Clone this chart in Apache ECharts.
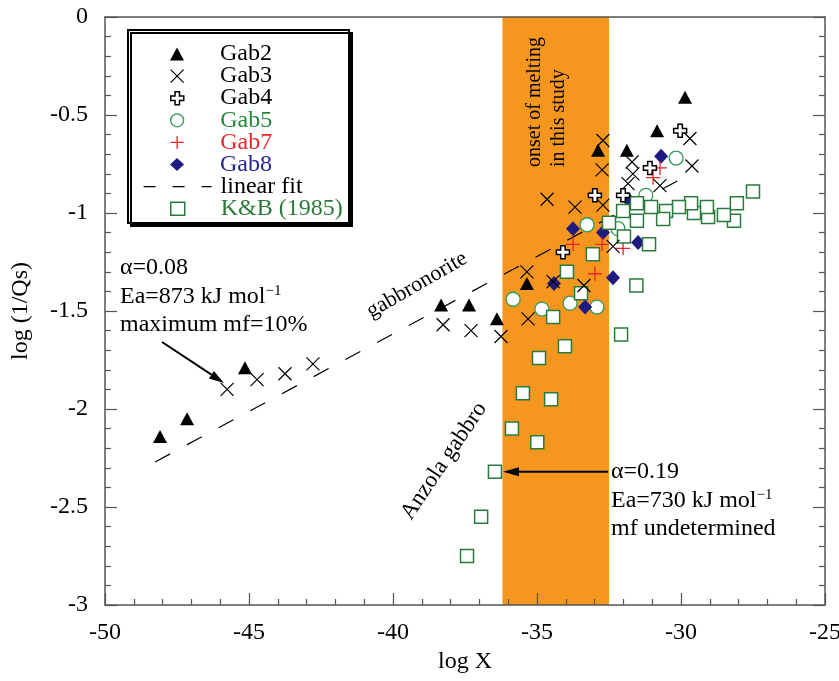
<!DOCTYPE html>
<html><head><meta charset="utf-8">
<script src="https://cdn.jsdelivr.net/npm/echarts@6/dist/echarts.min.js"></script>
<style>html,body{margin:0;padding:0;background:#fff}#c{width:839px;height:681px}</style>
</head><body><div id="c"></div>
<script>
// ---- data ----
const gab2 = [[-48.09,-2.14],[-47.15,-2.05],[-45.14,-1.79],[-38.33,-1.47],[-37.36,-1.47],[-36.39,-1.54],[-35.35,-1.36],[-32.88,-0.68],[-31.88,-0.68],[-30.83,-0.58],[-29.86,-0.41]];
const gab3 = [[-45.76,-1.90],[-44.72,-1.85],[-43.75,-1.82],[-42.78,-1.77],[-38.26,-1.57],[-37.29,-1.60],[-36.25,-1.63],[-35.31,-1.54],[-35.35,-1.30],[-34.44,-1.35],[-33.37,-1.37],[-32.36,-1.17],[-34.65,-0.93],[-33.68,-0.97],[-32.71,-0.96],[-32.71,-0.63],[-32.74,-0.78],[-31.70,-0.74],[-31.67,-0.80],[-31.84,-0.85],[-30.73,-0.86],[-29.69,-0.62],[-29.62,-0.76]];
const gab4 = [[-30.03,-0.58],[-31.08,-0.77],[-32.99,-0.91],[-32.01,-0.91],[-34.10,-1.20]];
const gab5 = [[-35.83,-1.44],[-34.83,-1.49],[-33.85,-1.46],[-32.92,-1.48],[-33.26,-1.06],[-32.19,-1.08],[-31.22,-0.91],[-30.17,-0.72]];
const gab7 = [[-30.73,-0.77],[-30.97,-0.82],[-33.75,-1.16],[-32.74,-1.16],[-32.01,-1.18],[-32.99,-1.31]];
const gab8 = [[-30.69,-0.71],[-31.84,-0.93],[-33.75,-1.08],[-32.71,-1.10],[-31.49,-1.15],[-34.41,-1.36],[-32.36,-1.33],[-33.33,-1.48]];
const kb = [[-27.50,-0.89],[-28.06,-0.95],[-28.16,-1.04],[-28.51,-1.01],[-29.06,-1.02],[-29.10,-0.97],[-29.55,-1.00],[-29.65,-0.95],[-30.07,-0.97],[-30.52,-0.99],[-30.62,-1.03],[-31.04,-0.97],[-31.53,-0.95],[-31.53,-1.04],[-32.01,-0.99],[-32.50,-1.05],[-31.98,-1.12],[-31.11,-1.16],[-33.06,-1.21],[-31.55,-1.37],[-33.96,-1.30],[-33.47,-1.41],[-34.44,-1.53],[-32.08,-1.62],[-34.03,-1.68],[-34.93,-1.74],[-35.49,-1.92],[-34.51,-1.95],[-35.87,-2.10],[-34.99,-2.17],[-36.46,-2.32],[-36.94,-2.55],[-37.43,-2.75]];
const linearFit = [[-48.26,-2.27],[-29.79,-0.81]];
const meltBand = [-36.2, -32.5];
const xRange = [-50, -25, 5];
const yRange = [-3, 0, 0.5];
const arrowLow = [[-48.02,-1.658],[-45.87,-1.867]];
const arrowHigh = [[-32.53,-2.32],[-36.18,-2.32]];
const legendNames = ['Gab2','Gab3','Gab4','Gab5','Gab7','Gab8','linear fit','K&B (1985)'];

const FONT = '"Liberation Serif","Times New Roman",serif';
const GREEN_C = '#2f9a55', GREEN_S = '#2a7a3c', RED = '#e8262a', NAVY = '#1e1a80';
const P_X = 'path://M0,0L10,10M10,0L0,10';
const P_PLUS_FAT = 'path://M3.3,0H6.7V3.3H10V6.7H6.7V10H3.3V6.7H0V3.3H3.3Z';
const P_PLUS = 'path://M5,0V10M0,5H10';

const chart = echarts.init(document.getElementById('c'), null, {renderer: 'canvas'});

function axisCommon(extra) {
  return Object.assign({
    type: 'value', splitLine: {show: false},
    axisLine: {show: true, onZero: false, lineStyle: {color: '#555', width: 1.5}},
    axisTick: {show: true, inside: true, length: 12, lineStyle: {color: '#555', width: 1.2}},
    minorTick: {show: true, splitNumber: 5, length: 6, lineStyle: {color: '#555', width: 1.2}},
    axisLabel: {color: '#000', fontFamily: FONT, fontSize: 24},
    z: 10
  }, extra);
}

const legendText = {fontFamily: FONT, fontSize: 24, color: '#000', lineHeight: 22, padding: [0,0,0,31]};
const legendItems = {
  'Gab2': {name: 'Gab2'},
  'Gab3': {name: 'Gab3', itemStyle: {color: 'rgba(0,0,0,0)', borderColor: '#000', borderWidth: 1.2}},
  'Gab4': {name: 'Gab4', itemStyle: {color: '#fff', borderColor: '#000', borderWidth: 1.5}},
  'Gab5': {name: 'Gab5', textStyle: {color: '#1f8a3a'}, itemStyle: {color: '#fff', borderColor: GREEN_C, borderWidth: 1.3}},
  'Gab7': {name: 'Gab7', textStyle: {color: RED}, itemStyle: {color: 'rgba(0,0,0,0)', borderColor: RED, borderWidth: 1.3}},
  'Gab8': {name: 'Gab8', textStyle: {color: '#24248f'}},
  'linear fit': {name: 'linear fit', itemStyle: {color: 'rgba(0,0,0,0)', borderColor: 'rgba(0,0,0,0)', borderWidth: 0},
                 lineStyle: {color: '#000', width: 1.2, type: [12, 17]}},
  'K&B (1985)': {name: 'K&B (1985)', textStyle: {color: '#2e7a3a'}, itemStyle: {color: '#fff', borderColor: GREEN_S, borderWidth: 1.5}}
};
const legends = legendNames.map(function (n, i) {
  const isLine = n === 'linear fit';
  return {
    show: true, orient: 'vertical', left: isLine ? 143 : 170, top: 42 + 22.1 * i,
    padding: 0, itemGap: 0, itemWidth: isLine ? 68 : 14, itemHeight: 13,
    selectedMode: false, z: 6,
    textStyle: isLine ? Object.assign({}, legendText, {padding: [0,0,0,4]}) : legendText,
    data: [legendItems[n]]
  };
});

const option = {
  animation: false,
  backgroundColor: '#fff',
  grid: {left: 105, right: 14, top: 17, bottom: 76, containLabel: false, outerBoundsMode: 'none'},
  xAxis: [
    axisCommon({min: xRange[0], max: xRange[1], interval: xRange[2], position: 'bottom',
      axisLabel: {color: '#000', fontFamily: FONT, fontSize: 24, margin: 16},
      name: 'log X', nameLocation: 'middle', nameGap: 45,
      nameTextStyle: {color: '#000', fontFamily: FONT, fontSize: 24}}),
    axisCommon({min: xRange[0], max: xRange[1], interval: xRange[2], position: 'top',
      axisTick: {show: false}, minorTick: {show: false}, axisLabel: {show: false}})
  ],
  yAxis: [
    axisCommon({min: yRange[0], max: yRange[1], interval: yRange[2], position: 'left',
      axisLabel: {color: '#000', fontFamily: FONT, fontSize: 24, margin: 17},
      name: 'log (1/Qs)', nameLocation: 'middle', nameGap: 72, nameRotate: 90,
      nameTextStyle: {color: '#000', fontFamily: FONT, fontSize: 24}}),
    axisCommon({min: yRange[0], max: yRange[1], interval: yRange[2], position: 'right',
      axisLabel: {show: false}})
  ],
  legend: legends,
  series: [
    {name: 'band', type: 'line', data: [], z: 1, silent: true,
     markArea: {silent: true, itemStyle: {color: '#f5961f', opacity: 1},
       data: [[{xAxis: meltBand[0], yAxis: yRange[0]}, {xAxis: meltBand[1], yAxis: yRange[1]}]]}},
    {name: 'linear fit', type: 'line', data: linearFit, symbol: 'none', z: 2, silent: true,
     lineStyle: {color: '#000', width: 1.2, type: [17, 19]}},
    {name: 'Gab5', type: 'scatter', data: gab5, symbol: 'circle', symbolSize: 14, z: 3,
     itemStyle: {color: '#fff', borderColor: GREEN_C, borderWidth: 1.3, opacity: 1}},
    {name: 'Gab8', type: 'scatter', data: gab8, symbol: 'diamond', symbolSize: [14, 15], z: 3,
     itemStyle: {color: NAVY, opacity: 1}},
    {name: 'Gab7', type: 'scatter', data: gab7, symbol: P_PLUS, symbolSize: 14, z: 3,
     itemStyle: {color: 'rgba(0,0,0,0)', borderColor: RED, borderWidth: 1.3, opacity: 1}},
    {name: 'K&B (1985)', type: 'scatter', data: kb, symbol: 'rect', symbolSize: 13, z: 4,
     itemStyle: {color: '#fff', borderColor: GREEN_S, borderWidth: 1.5, opacity: 1}},
    {name: 'Gab2', type: 'scatter', data: gab2, symbol: 'triangle', symbolSize: [14, 13], z: 5,
     itemStyle: {color: '#000', opacity: 1}},
    {name: 'Gab3', type: 'scatter', data: gab3, symbol: P_X, symbolSize: 13, z: 5,
     itemStyle: {color: 'rgba(0,0,0,0)', borderColor: '#000', borderWidth: 1.2, opacity: 1}},
    {name: 'Gab4', type: 'scatter', data: gab4, symbol: P_PLUS_FAT, symbolSize: 13, z: 5,
     itemStyle: {color: '#fff', borderColor: '#000', borderWidth: 1.5, opacity: 1}}
  ]
};
chart.setOption(option);

// ---- annotations (placed from data coordinates) ----
function px(p) { return chart.convertToPixel({xAxisIndex: 0, yAxisIndex: 0}, p); }
function arrow(a, b, headLen, halfW) {
  const p0 = px(a), p1 = px(b);
  const dx = p1[0]-p0[0], dy = p1[1]-p0[1], L = Math.hypot(dx, dy);
  const ux = dx/L, uy = dy/L, bx = p1[0]-ux*headLen, by = p1[1]-uy*headLen;
  return [
    {type: 'line', z: 20, shape: {x1: p0[0], y1: p0[1], x2: bx, y2: by}, style: {stroke: '#000', lineWidth: 2}},
    {type: 'polygon', z: 20, shape: {points: [[p1[0], p1[1]], [bx - uy*halfW, by + ux*halfW], [bx + uy*halfW, by - ux*halfW]]},
     style: {fill: '#000'}}
  ];
}
function txt(x, y, text, opts) {
  return Object.assign({type: 'text', x: x, y: y, z: 20,
    style: Object.assign({text: text, fill: '#000', font: '24px ' + FONT, align: 'left', verticalAlign: 'middle'}, (opts && opts.style) || {})},
    (opts && opts.el) || {});
}
const supRich = {
  n: {fontFamily: FONT, fontSize: 24, lineHeight: 26, fill: '#000'},
  s: {fontFamily: FONT, fontSize: 15, lineHeight: 15, verticalAlign: 'top', fill: '#000'}
};
const graphics = [
  {type: 'rect', z: 5, shape: {x: 128, y: 30, width: 221, height: 193},
   style: {fill: '#fff', stroke: '#000', lineWidth: 2, shadowColor: '#000', shadowOffsetX: 3, shadowOffsetY: 3, shadowBlur: 0}},
  txt(120, 268, 'α=0.08'),
  txt(120, 297, '{n|Ea=873 kJ mol}{s|−1}', {style: {rich: supRich}}),
  txt(120, 325, 'maximum mf=10%'),
  txt(611, 472, 'α=0.19'),
  txt(611, 501, '{n|Ea=730 kJ mol}{s|−1}', {style: {rich: supRich}}),
  txt(611, 529, 'mf undetermined'),
  txt(417, 285, 'gabbronorite', {style: {align: 'center', font: '22px ' + FONT}, el: {rotation: 30 * Math.PI / 180}}),
  txt(444, 461, 'Anzola gabbro', {style: {align: 'center', font: '23px ' + FONT}, el: {rotation: 56 * Math.PI / 180}}),
  txt(535, 167, 'onset of melting', {style: {font: '20px ' + FONT}, el: {rotation: Math.PI / 2}}),
  txt(559, 167, 'in this study', {style: {font: '20px ' + FONT}, el: {rotation: Math.PI / 2}})
].concat(arrow(arrowLow[0], arrowLow[1], 15, 4.5), arrow(arrowHigh[0], arrowHigh[1], 16, 4.5));
chart.setOption({graphic: {elements: graphics}});
</script>
</body></html>
